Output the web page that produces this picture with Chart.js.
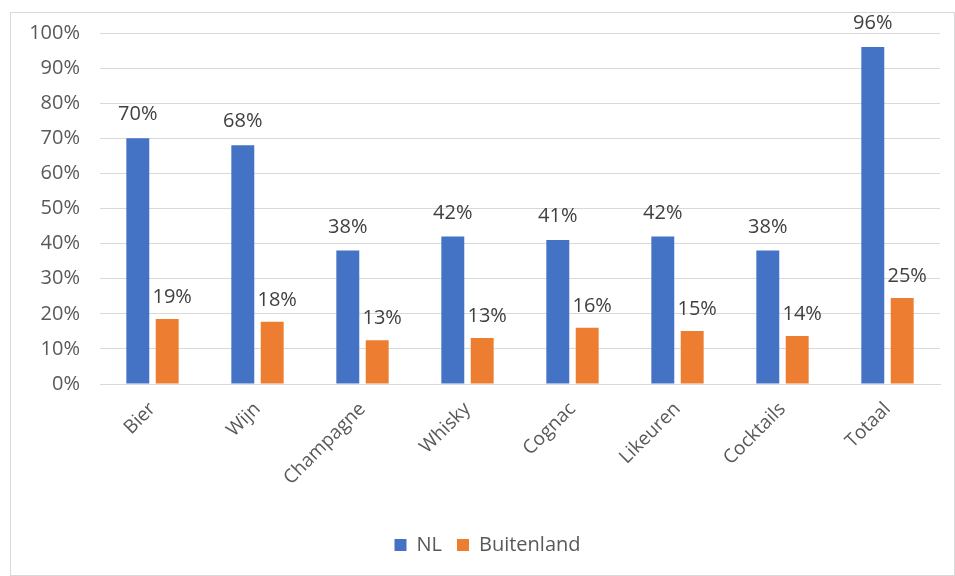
<!DOCTYPE html>
<html><head><meta charset="utf-8">
<script src="https://cdn.jsdelivr.net/npm/chart.js@4/dist/chart.umd.min.js"></script>
<style>
html,body{margin:0;padding:0;background:#fff;}
#wrap{position:absolute;left:10px;top:12px;width:943px;height:562px;border:1px solid #d9d9d9;}
canvas{display:block;}
</style></head><body>
<div id="wrap"><canvas id="c" width="943" height="562"></canvas></div>
<script>
const categories = ["Bier","Wijn","Champagne","Whisky","Cognac","Likeuren","Cocktails","Totaal"];
const nlValues = [70,68,38,42,41,42,38,96];
const buitenlandValues = [18.5,17.7,12.5,13.1,16,15.1,13.7,24.5];
const nlLabels = ["70%","68%","38%","42%","41%","42%","38%","96%"];
const buitenlandLabels = ["19%","18%","13%","13%","16%","15%","14%","25%"];
const yTicks = [0,10,20,30,40,50,60,70,80,90,100];
const FONT = '"Open Sans", sans-serif';

const labelPlugin = {
  id:'barLabels',
  afterLayout(chart){
    if (chart.legend) { chart.legend.left += 12; chart.legend.right += 12; }
  },
  afterDatasetsDraw(chart){
    const ctx = chart.ctx;
    const lists = [nlLabels, buitenlandLabels];
    ctx.save();
    ctx.font = '20px ' + FONT;
    ctx.fillStyle = '#404040';
    ctx.textAlign = 'center';
    ctx.textBaseline = 'alphabetic';
    chart.data.datasets.forEach((ds,di)=>{
      const meta = chart.getDatasetMeta(di);
      meta.data.forEach((bar,i)=>{
        const dx = di===1 ? 5 : 0;
        const dy = di===1 ? 16 : 18;
        ctx.fillText(lists[di][i], bar.x+dx, bar.y-dy);
      });
    });
    ctx.restore();
  }
};

new Chart(document.getElementById('c'),{
  type:'bar',
  data:{
    labels:categories,
    datasets:[
      {label:'NL',data:nlValues,backgroundColor:'#4472C4',categoryPercentage:0.56,barPercentage:0.78},
      {label:'Buitenland',data:buitenlandValues,backgroundColor:'#ED7D31',categoryPercentage:0.56,barPercentage:0.78}
    ]
  },
  options:{
    responsive:false,
    animation:false,
    layout:{padding:{left:0,right:14,top:20,bottom:10}},
    scales:{
      x:{
        grid:{display:false},
        border:{display:true,color:'#d9d9d9'},
        afterFit(axis){axis.height = 136;},
        ticks:{color:'#595959',font:{size:19,family:FONT},maxRotation:45,minRotation:45,padding:6}
      },
      y:{
        min:0,max:100,
        afterBuildTicks(axis){axis.ticks = yTicks.map(v=>({value:v}));},
        afterFit(axis){axis.width = 89; axis.paddingTop = 0; axis.paddingBottom = 0;},
        grid:{color:'#d9d9d9',drawTicks:false},
        border:{display:false},
        ticks:{color:'#595959',font:{size:20,family:FONT},padding:20,callback:v=>v+'%'}
      }
    },
    plugins:{
      legend:{position:'bottom',labels:{boxWidth:12,boxHeight:12,color:'#595959',font:{size:20,family:FONT},padding:15}},
      tooltip:{enabled:false}
    }
  },
  plugins:[labelPlugin]
});
</script>
</body></html>
